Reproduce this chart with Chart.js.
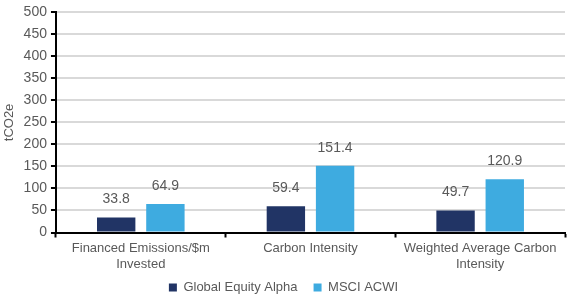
<!DOCTYPE html>
<html>
<head>
<meta charset="utf-8">
<script src="https://cdn.jsdelivr.net/npm/chart.js@4"></script>
<style>
  html, body { margin: 0; padding: 0; background: #fff; }
  #wrap { width: 567px; height: 299px; }
</style>
</head>
<body>
<div id="wrap"><canvas id="mycan"></canvas></div>
<script>
var categories = [['Financed Emissions/$m', 'Invested'], 'Carbon Intensity', ['Weighted Average Carbon', 'Intensity']];
var fundValues = [33.8, 59.4, 49.7];
var benchValues = [64.9, 151.4, 120.9];
var seriesNames = ['Global Equity Alpha', 'MSCI ACWI'];
var yTicks = [0, 50, 100, 150, 200, 250, 300, 350, 400, 450, 500];

var textGrey = '#595959';
var fontName = '"Liberation Sans", Arial, sans-serif';

// draw value labels above each bar
var valueLabels = {
  id: 'valueLabels',
  afterDatasetsDraw: function(chart) {
    var ctx = chart.ctx;
    ctx.save();
    ctx.font = '14px ' + fontName;
    ctx.fillStyle = textGrey;
    ctx.textAlign = 'center';
    ctx.textBaseline = 'bottom';
    chart.data.datasets.forEach(function(ds, i) {
      chart.getDatasetMeta(i).data.forEach(function(bar, j) {
        ctx.fillText(ds.data[j].toFixed(1), bar.x, bar.y - 11);
      });
    });
    ctx.restore();
  }
};

// shorter legend box (more room for the plot), items nudged up a bit
var tightLegend = {
  id: 'tightLegend',
  beforeUpdate: function(chart) {
    var lg = chart.legend;
    if (!lg || lg._tight) return;
    lg._tight = true;
    var origFit = lg.fit;
    lg.fit = function() {
      origFit.call(this);
      this.height -= 16;
    };
  },
  afterLayout: function(chart) {
    var lg = chart.legend;
    if (!lg) return;
    lg.top -= 11;   // bottom stays put so the clip area still holds the text
  }
};

Chart.defaults.font.family = fontName;
Chart.defaults.color = textGrey;

var chartdata = {
  labels: categories,
  datasets: [
    {
      label: seriesNames[0],
      backgroundColor: '#213465',
      data: fundValues,
      barPercentage: 0.78,
      categoryPercentage: 0.58
    },
    {
      label: seriesNames[1],
      backgroundColor: '#3eabe0',
      data: benchValues,
      barPercentage: 0.78,
      categoryPercentage: 0.58
    }
  ]
};

new Chart(document.getElementById('mycan'), {
  type: 'bar',
  data: chartdata,
  plugins: [valueLabels, tightLegend],
  options: {
    responsive: true,
    maintainAspectRatio: false,
    animation: false,
    layout: { padding: { top: 2, right: 2, left: 2, bottom: 0 } },
    plugins: {
      tooltip: { enabled: false },
      legend: {
        position: 'bottom',
        labels: {
          boxWidth: 8,
          boxHeight: 8,
          padding: 16,
          color: textGrey,
          font: { size: 13 }
        }
      }
    },
    scales: {
      x: {
        border: { color: '#000', width: 2 },
        grid: {
          display: true,
          drawOnChartArea: false,
          drawTicks: true,
          tickLength: 5,
          tickColor: '#000',
          tickWidth: 2,
          offset: true
        },
        ticks: { color: textGrey, font: { size: 13, lineHeight: 1.25 }, padding: 3, maxRotation: 0 }
      },
      y: {
        min: 0,
        max: 500,
        afterBuildTicks: function(axis) {
          axis.ticks = yTicks.map(function(v) { return { value: v }; });
        },
        border: { color: '#000', width: 2 },
        grid: {
          color: '#d9d9d9',
          lineWidth: 2,
          tickColor: '#000',
          tickLength: 5,
          tickWidth: 2
        },
        ticks: { color: textGrey, font: { size: 14 }, padding: 4, autoSkip: false },
        title: {
          display: true,
          text: 'tCO2e',
          color: textGrey,
          font: { size: 13 },
          padding: { top: 0, bottom: 2 }
        }
      }
    }
  }
});
</script>
</body>
</html>
